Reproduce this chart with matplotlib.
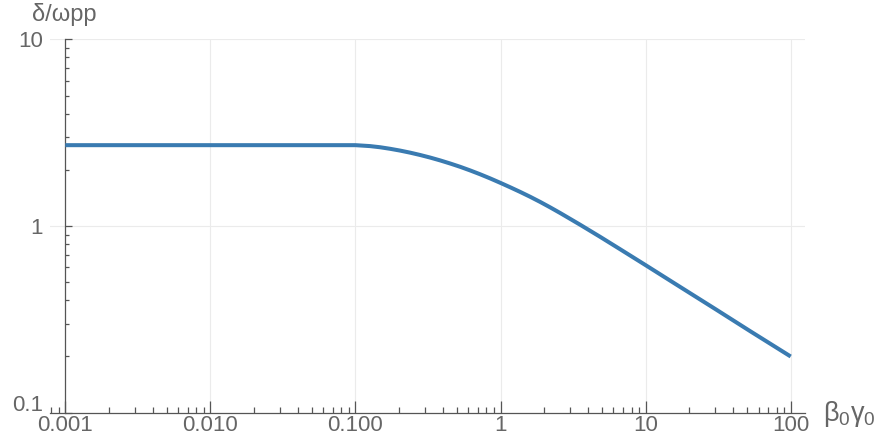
import numpy as np
import matplotlib
matplotlib.use("Agg")
from matplotlib import pyplot as plt
from matplotlib.ticker import LogLocator, FixedLocator, FixedFormatter, NullFormatter

# values
beta_gamma = [0.001, 0.01, 0.1, 0.126, 0.148, 0.173, 0.203, 0.238, 0.279, 0.327, 0.384,
	0.450, 0.527, 0.618, 0.724, 0.849, 1.0, 1.166, 1.367, 1.60, 1.878, 2.20, 2.58,
	3.025, 3.55, 4.87, 6.69, 10, 17.35, 30.6, 52.7, 100]
delta = [2.71, 2.71, 2.71, 2.679, 2.641, 2.592, 2.535, 2.471, 2.401, 2.326, 2.245,
	2.161, 2.075, 1.984, 1.892, 1.798, 1.701, 1.612, 1.522, 1.434, 1.345, 1.258, 1.173,
	1.091, 1.014, 0.874, 0.750, 0.617, 0.471, 0.357, 0.273, 0.200]

x_ticks = [0.001, 0.01, 0.1, 1, 10, 100]
x_labels = ["0.001", "0.010", "0.100", "1", "10", "100"]
y_ticks = [0.1, 1, 10]
y_labels = ["0.1", "1", "10"]

plt.rcParams['font.family'] = ['Liberation Sans', 'DejaVu Sans']
plt.rcParams['mathtext.fontset'] = 'custom'
plt.rcParams['mathtext.rm'] = 'Liberation Sans'
plt.rcParams['mathtext.it'] = 'Liberation Sans'

txt = '#666666'
axc = '#555555'
grid = '#ebebeb'

fig = plt.figure(figsize=(8.83, 4.4), dpi=100)
ax = fig.add_axes([50/883, (440-412.7)/440, (805-50)/883, (412.7-39.3)/440])

ax.plot(beta_gamma, delta, color='#3a7bb1', lw=2.9, solid_capstyle='butt', solid_joinstyle='round', zorder=3)

ax.set_xscale('log')
ax.set_yscale('log')
ax.set_xlim(10**(-3 - 15.3/145), 10**(2 + 14.3/145))
ax.set_ylim(0.1, 10)

for s in ['top', 'right']:
	ax.spines[s].set_visible(False)
ax.spines['left'].set_position(('data', 0.001))
for s in ['left', 'bottom']:
	ax.spines[s].set_color(axc)
	ax.spines[s].set_linewidth(0.9)

ax.xaxis.set_major_locator(FixedLocator(x_ticks))
ax.xaxis.set_major_formatter(FixedFormatter(x_labels))
ax.xaxis.set_minor_locator(LogLocator(base=10, subs=np.arange(2, 10), numticks=20))
ax.xaxis.set_minor_formatter(NullFormatter())
ax.yaxis.set_major_locator(FixedLocator(y_ticks))
# lowest label is drawn by hand, lifted off the x axis like the original
ax.yaxis.set_major_formatter(FixedFormatter([""] + y_labels[1:]))
ax.yaxis.set_minor_locator(LogLocator(base=10, subs=np.arange(2, 10), numticks=20))
ax.yaxis.set_minor_formatter(NullFormatter())

ax.tick_params(axis='x', which='major', direction='in', length=8.5, width=0.9, color=axc,
	labelsize=16, labelcolor=txt, pad=2)
ax.tick_params(axis='x', which='minor', direction='in', length=4.3, width=0.9, color=axc)
ax.tick_params(axis='y', which='major', direction='in', length=5, width=0.9, color=axc,
	labelsize=16, labelcolor=txt, pad=16)
ax.tick_params(axis='y', which='minor', direction='in', length=3, width=0.9, color=axc)

ax.annotate(y_labels[0], xy=(x_ticks[0], y_ticks[0]), xytext=(-16, 5), textcoords='offset points',
	ha='right', va='center', fontsize=16, color=txt, annotation_clip=False)

for v in x_ticks[1:]:
	ax.axvline(v, color=grid, lw=0.8, zorder=0)
for v in y_ticks[1:]:
	ax.axhline(v, color=grid, lw=0.8, zorder=0)

fig.text(32/883, (440-21)/440, "δ/ωpp", fontsize=17, color=txt, ha='left', va='baseline')
fig.text(823/883, (440-421)/440, r"$\mathregular{β_0γ_0}$", fontsize=19.5, color=txt, ha='left', va='baseline')

fig.savefig("out.png", dpi=100)
